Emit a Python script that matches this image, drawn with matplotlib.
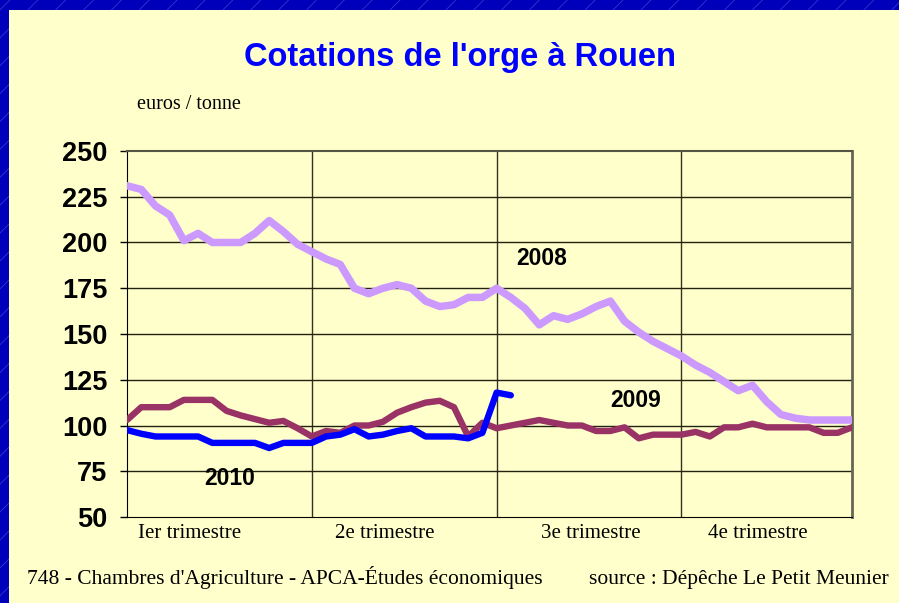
import matplotlib
matplotlib.use("Agg")
import matplotlib.pyplot as plt
from matplotlib.patches import Rectangle
from matplotlib.lines import Line2D
import numpy as np

# weekly barley quotes, euros / tonne
prix_2008 = [231, 229, 220, 215, 201, 205, 200, 200, 200, 205, 212, 206, 199,
             195, 191, 188, 175, 172, 175, 177, 175, 168, 165, 166, 170, 170,
             175, 170, 164, 155, 160, 158, 161, 165, 168, 157, 151, 146, 142,
             138, 133, 129, 124, 119, 122, 113, 106, 104, 103, 103, 103, 103]
prix_2009 = [103, 110, 110, 110, 114, 114, 114, 108, 105.5, 103.5, 101.5, 102.5,
             98.5, 94, 97, 96, 100, 100, 102, 107, 110, 112.5, 113.5, 110, 94,
             101.5, 98.5, 100, 101.5, 103, 101.5, 100, 100, 97, 97, 99, 93, 95,
             95, 95, 96.5, 94, 99, 99, 101, 99, 99, 99, 99, 96, 96, 99]
prix_2010 = [97.5, 95.5, 94, 94, 94, 94, 90.5, 90.5, 90.5, 90.5, 87.7, 90.5,
             90.5, 90.5, 94, 95, 98, 94, 95, 97, 98.5, 94, 94, 94, 93, 96,
             118, 116.5]

trimestres = ["Ier trimestre", "2e trimestre", "3e trimestre", "4e trimestre"]
y_ticks = [50, 75, 100, 125, 150, 175, 200, 225, 250]

fig = plt.figure(figsize=(8.99, 6.03), dpi=100)
fig.patch.set_facecolor('#0000BB')

# faint diagonal stripes on the blue border
for x0 in np.arange(-1.0, 1.2, 0.031):
    fig.add_artist(Line2D([x0, x0 + 0.67], [0, 1], transform=fig.transFigure,
                          color='#5a5ae0', lw=0.6, alpha=0.6, zorder=0))
# yellow panel
fig.add_artist(Rectangle((9 / 899, 0), 1, 1 - 10 / 603, transform=fig.transFigure,
                         facecolor='#FFFFCC', edgecolor='none', zorder=1))

ax = fig.add_axes([0.1413, 0.1426, 0.8064, 0.607])
ax.set_facecolor('#FFFFCC')
ax.set_zorder(2)

weeks08 = np.arange(len(prix_2008))
weeks09 = np.arange(len(prix_2009))
weeks10 = np.arange(len(prix_2010))
ax.plot(weeks08, prix_2008, color='#CC99FF', lw=5.4, solid_capstyle='round', zorder=3)
ax.plot(weeks09, prix_2009, color='#993366', lw=4.6, solid_capstyle='round', zorder=4)
ax.plot(weeks10, prix_2010, color='#0000FF', lw=4.6, solid_capstyle='round', zorder=5)

ax.set_xlim(0, 51)
ax.set_ylim(50, 250)
ax.set_yticks(y_ticks)
ax.set_yticklabels([str(v) for v in y_ticks], fontsize=19.5, fontweight='bold',
                   family='Liberation Sans')
ax.tick_params(axis='y', length=5, width=1, color='black', pad=9)

# quarter grid lines
for q in [13, 26, 39]:
    ax.axvline(q, color='#333322', lw=1, zorder=2)
for v in y_ticks[1:-1]:
    ax.axhline(v, color='#222211', lw=1, zorder=2)

ax.set_xticks([4.4, 18.1, 32.6, 44.4])
ax.set_xticklabels(trimestres, family='Liberation Serif', fontsize=15)
ax.tick_params(axis='x', length=0, pad=5)

ax.spines['left'].set_color('black')
ax.spines['bottom'].set_color('black')
ax.spines['top'].set_color('#555544')
ax.spines['right'].set_color('#666655')
ax.spines['top'].set_linewidth(1.5)
ax.spines['right'].set_linewidth(2)

lab = dict(fontsize=16.5, fontweight='bold', family='Liberation Sans',
           ha='center', va='center', zorder=6)
ax.text(29.2, 191, "2008", **lab)
ax.text(35.8, 113.4, "2009", **lab)
ax.text(7.25, 70.8, "2010", **lab)

fig.text(0.512, 0.905, "Cotations de l'orge à Rouen", color='#0000FF', fontsize=23.5,
         fontweight='bold', family='Liberation Sans',
         ha='center', va='center', zorder=3)
fig.text(0.152, 0.826, "euros / tonne", family='Liberation Serif', fontsize=14.5,
         ha='left', va='center', zorder=3)
fig.text(0.030, 0.0315, "748 - Chambres d'Agriculture - APCA-Études économiques",
         family='Liberation Serif', fontsize=15.5, ha='left', va='baseline', zorder=3)
fig.text(0.989, 0.0315, "source : Dépêche Le Petit Meunier",
         family='Liberation Serif', fontsize=15.5, ha='right', va='baseline', zorder=3)

fig.savefig("out.png", dpi=100, facecolor=fig.get_facecolor())
